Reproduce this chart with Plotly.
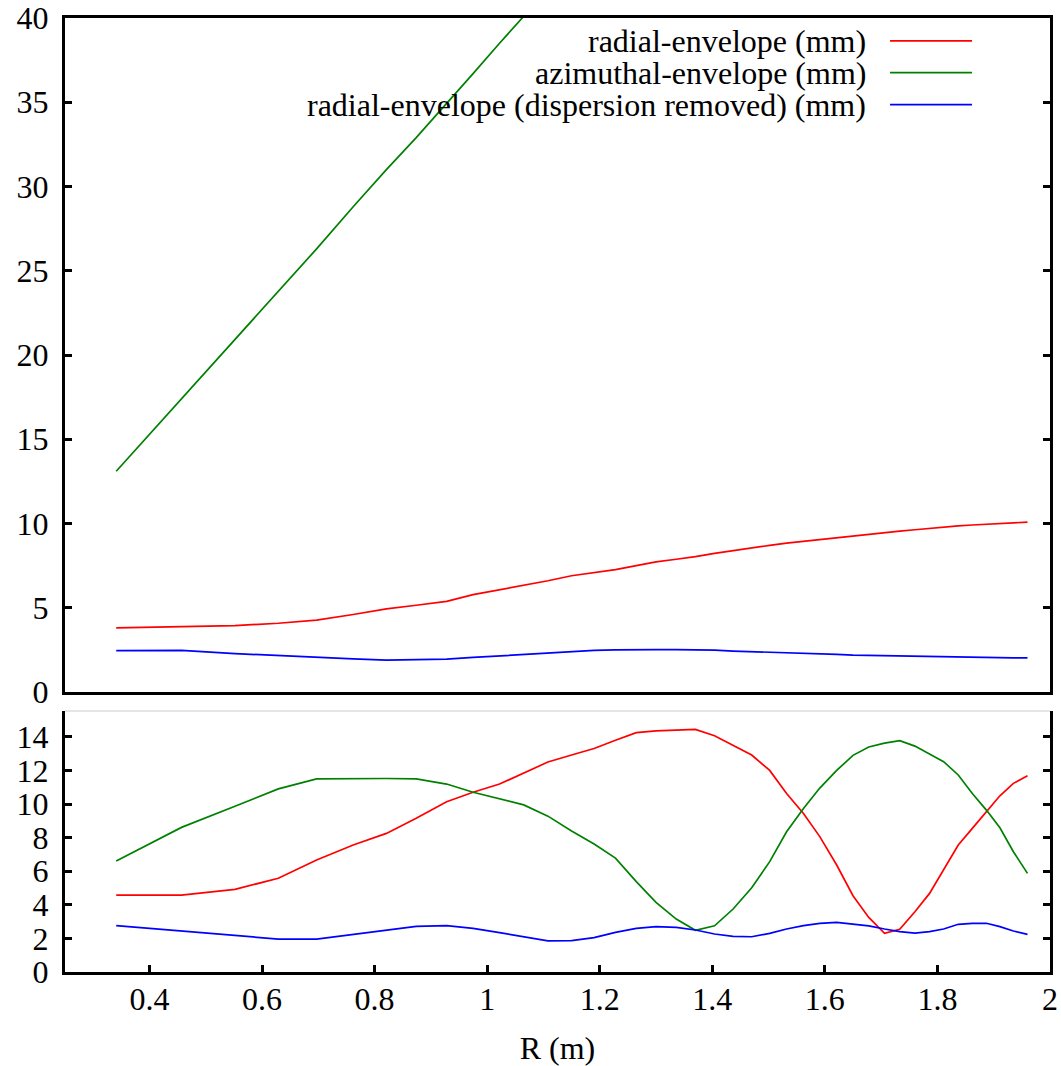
import plotly.graph_objects as go

# Radius (m) sample points
R = [0.341, 0.457, 0.552, 0.629, 0.697, 0.762, 0.821, 0.874, 0.928, 0.975,
     1.022, 1.065, 1.108, 1.150, 1.190, 1.228, 1.265, 1.300, 1.336, 1.370,
     1.404, 1.437, 1.470, 1.502, 1.532, 1.562, 1.591, 1.621, 1.650, 1.678,
     1.706, 1.733, 1.760, 1.786, 1.811, 1.837, 1.862, 1.887, 1.911, 1.935, 1.960]

# Top panel
top_radial = [3.80, 3.86, 3.94, 4.08, 4.27, 4.60, 4.93, 5.15, 5.38, 5.78,
              6.07, 6.32, 6.60, 6.90, 7.08, 7.26, 7.50, 7.72, 7.88, 8.03,
              8.23, 8.40, 8.55, 8.70, 8.84, 8.95, 9.05, 9.15, 9.27, 9.36,
              9.46, 9.55, 9.63, 9.72, 9.80, 9.86, 9.91, 9.96, 10.02, 10.05, 10.08]
top_azimuthal = [13.1, 17.4, 20.9, 23.8, 26.3, 28.8, 31.0, 32.9, 34.9, 36.7,
                 38.5, 40.1, 41.7, 43.2, 44.7, 46.1, 47.5, 48.8, 50.2, 51.4,
                 52.7, 53.9, 55.2, 56.4, 57.5, 58.6, 59.7, 60.8, 61.9, 62.9,
                 64.0, 65.0, 66.0, 66.9, 67.9, 68.8, 69.8, 70.7, 71.6, 72.5, 73.4]
top_radial_nodisp = [2.45, 2.47, 2.28, 2.15, 2.06, 1.96, 1.89, 1.90, 1.95, 2.05,
                     2.14, 2.22, 2.32, 2.42, 2.47, 2.50, 2.53, 2.52, 2.51, 2.50,
                     2.48, 2.43, 2.40, 2.36, 2.31, 2.28, 2.26, 2.23, 2.19, 2.17,
                     2.16, 2.13, 2.12, 2.10, 2.08, 2.06, 2.05, 2.03, 2.02, 2.02, 2.02]

# Bottom panel
bot_radial = [4.58, 4.58, 4.92, 5.58, 6.67, 7.56, 8.25, 9.15, 10.14, 10.70,
              11.19, 11.83, 12.50, 12.92, 13.31, 13.80, 14.25, 14.36, 14.42, 14.44,
              14.07, 13.50, 12.92, 12.00, 10.63, 9.44, 8.06, 6.37, 4.54, 3.25,
              2.30, 2.54, 3.59, 4.68, 6.07, 7.56, 8.55, 9.54, 10.49, 11.23, 11.68]
bot_azimuthal = [6.61, 8.61, 9.87, 10.90, 11.50, 11.52, 11.52, 11.50, 11.19, 10.70,
                 10.30, 9.95, 9.28, 8.40, 7.62, 6.78, 5.38, 4.15, 3.15, 2.48,
                 2.75, 3.75, 5.02, 6.57, 8.35, 9.74, 10.95, 12.00, 12.90, 13.40,
                 13.63, 13.77, 13.45, 13.00, 12.52, 11.73, 10.63, 9.64, 8.59, 7.16, 5.87]
bot_radial_nodisp = [2.76, 2.44, 2.18, 1.96, 1.96, 2.25, 2.50, 2.72, 2.76, 2.60,
                     2.34, 2.10, 1.85, 1.87, 2.05, 2.36, 2.60, 2.70, 2.66, 2.50,
                     2.26, 2.12, 2.10, 2.30, 2.56, 2.76, 2.90, 2.96, 2.86, 2.75,
                     2.56, 2.40, 2.32, 2.40, 2.56, 2.84, 2.90, 2.90, 2.70, 2.44, 2.24]

names = ["radial-envelope (mm)", "azimuthal-envelope (mm)",
         "radial-envelope (dispersion removed) (mm)"]
colors = ["#ff0000", "#008000", "#0000ff"]

x_ticks = [0.4, 0.6, 0.8, 1, 1.2, 1.4, 1.6, 1.8, 2]
top_y_ticks = [0, 5, 10, 15, 20, 25, 30, 35, 40]
bot_y_ticks = [0, 2, 4, 6, 8, 10, 12, 14]

FONT = "Liberation Serif"
FS = 32

fig = go.Figure()
for ys, c, n in zip([top_radial, top_azimuthal, top_radial_nodisp], colors, names):
    fig.add_trace(go.Scatter(x=R, y=ys, mode="lines", name=n,
                             line=dict(color=c, width=1.7),
                             xaxis="x", yaxis="y", showlegend=False))
for ys, c, n in zip([bot_radial, bot_azimuthal, bot_radial_nodisp], colors, names):
    fig.add_trace(go.Scatter(x=R, y=ys, mode="lines", name=n,
                             line=dict(color=c, width=1.7),
                             xaxis="x2", yaxis="y2", showlegend=False))

# Legend drawn gnuplot-style: text right-aligned, line sample on the right
leg_y = [0.9660, 0.9190, 0.8715]
for n, c, yy in zip(names, colors, leg_y):
    fig.add_annotation(text=n, xref="x domain", yref="y domain", x=0.8152, y=yy,
                       xanchor="right", yanchor="middle", showarrow=False,
                       font=dict(family=FONT, size=FS, color="black"))
    fig.add_shape(type="line", xref="x domain", yref="y domain",
                  x0=0.8376, x1=0.9208, y0=yy, y1=yy,
                  line=dict(color=c, width=1.7))

# light grey top edge of lower panel
fig.add_shape(type="line", xref="x2 domain", yref="y2 domain",
              x0=0, x1=1, y0=1, y1=1, line=dict(color="#dddddd", width=1.5))

axis_common = dict(showgrid=False, zeroline=False, linecolor="black", linewidth=3,
                   tickcolor="black", ticklen=7, tickwidth=3,
                   tickfont=dict(family=FONT, size=FS, color="black"))

fig.update_layout(
    width=1061, height=1066,
    margin=dict(l=65, r=11, t=18, b=94, autoexpand=False),
    paper_bgcolor="white", plot_bgcolor="white",
    font=dict(family=FONT, size=FS, color="black"),
    xaxis=dict(range=[0.25, 2], domain=[0, 1], anchor="y", matches="x2",
               showticklabels=False, ticks="", showline=True, mirror=True,
               **{k: v for k, v in axis_common.items() if k not in ("ticklen", "tickwidth")}),
    yaxis=dict(range=[0, 40], domain=[0.2935, 1], anchor="x",
               tickvals=top_y_ticks, ticks="inside", showline=True, mirror="ticks",
               ticklabelstandoff=7, ticklabeloverflow="allow", **axis_common),
    xaxis2=dict(range=[0.25, 2], domain=[0, 1], anchor="y2",
                tickvals=x_ticks, ticks="inside", showline=True, mirror=False,
                ticklabelstandoff=-3, ticklabeloverflow="allow",
                title=dict(text="R (m)", standoff=42,
                           font=dict(family=FONT, size=FS, color="black")),
                **axis_common),
    yaxis2=dict(range=[0, 15.54], domain=[0, 0.2736], anchor="x2",
                tickvals=bot_y_ticks, ticks="inside", showline=True, mirror="ticks",
                ticklabelstandoff=7, ticklabeloverflow="allow", **axis_common),
)

fig.write_html("out.html",
               config={"displayModeBar": False},
               post_script="document.body.style.margin='0';"
                           "document.body.style.overflow='hidden';")
